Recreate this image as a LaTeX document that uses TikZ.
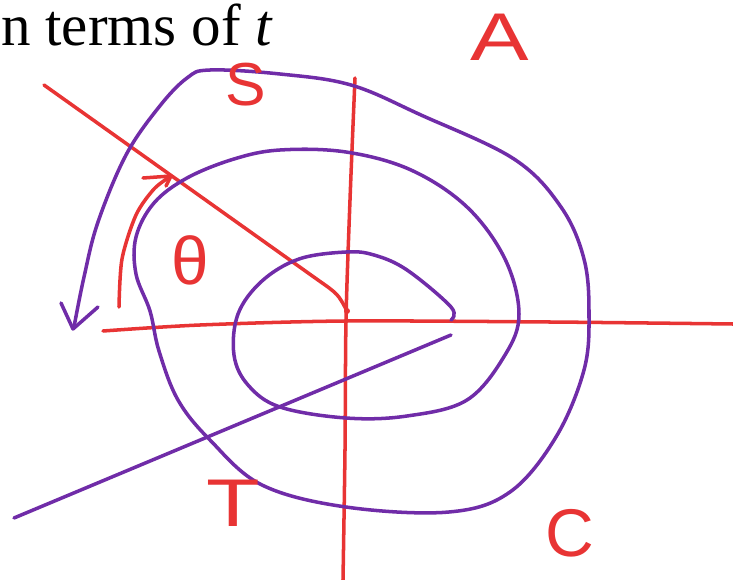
\documentclass[tikz,border=0pt]{standalone}
\usepackage{fontspec}
\setmainfont{Liberation Serif}
\newfontfamily\handfont{Liberation Sans}
\definecolor{penred}{RGB}{232,52,52}
\definecolor{penpurple}{RGB}{112,44,168}
\begin{document}
\begin{tikzpicture}[x=0.025cm, y=-0.025cm,
    redpen/.style={draw=penred, line width=2.5pt, line cap=round, line join=round},
    purplepen/.style={draw=penpurple, line width=2.5pt, line cap=round, line join=round},
    letter/.style={text=penred, font=\handfont\fontsize{48}{56}\selectfont, inner sep=0pt}
]
    \useasboundingbox (0,0) rectangle (733,580);

    % Heading
    \node[anchor=base west, inner sep=0pt, text depth=0pt, font=\fontsize{42}{50}\selectfont] (title) at (1,45) {n terms of \textit{t}};

    % Axes
    \coordinate (O) at (347,311);
    \draw[redpen] plot[smooth] coordinates {(103,331) (200,325) (346,321) (550,322) (733,324)};
    \draw[redpen] plot[smooth] coordinates {(355,78) (350,200) (346,320) (345,450) (343,580)};

    % Terminal side and origin
    \draw[redpen] (44,85) -- (318,280) .. controls (338,294) .. (O);
    \fill[penred] (O) circle (3);

    % Angle arrow
    \draw[redpen] plot[smooth] coordinates {(119,307) (122,259) (136,215) (154,189) (171,176)};
    \draw[redpen] (143,178) -- (171,176) -- (166,186);

    % Spiral
    \draw[purplepen] plot[smooth, tension=0.6] coordinates {
        (451,320) (451,307) (407,270) (374,255) (346,252) (299,259) (262,281)
        (238,314) (234,355) (248,385) (280,407) (346,418) (407,416) (467,400)
        (505,355) (519,314) (505,259) (467,207) (411,170) (346,152) (280,150)
        (234,159) (187,178) (154,203) (136,237) (136,274) (150,311) (159,351)
        (178,400) (210,440) (262,485) (346,507) (449,512) (510,492) (556,437)
        (584,370) (589,314) (584,259) (561,207) (514,159) (421,115) (351,85)
        (280,74) (210,70) (187,78) (159,107) (126,155) (98,222) (84,277) (74,327)};
    \draw[purplepen] (61,303) -- (73,329) -- (98,307);

    % Line through the spiral
    \draw[purplepen] (14,518) -- (451,335);

    % Labels
    \node[letter] (theta) at (190,260) {θ};
    \node[letter, scale=0.9] (sine) at (246,85) {S};
    \node[letter, xscale=1.3] (all) at (500,37) {A};
    \node[letter, xscale=1.3] (tan) at (233,503) {T};
    \node[letter] (cos) at (570,533) {C};
\end{tikzpicture}
\end{document}
